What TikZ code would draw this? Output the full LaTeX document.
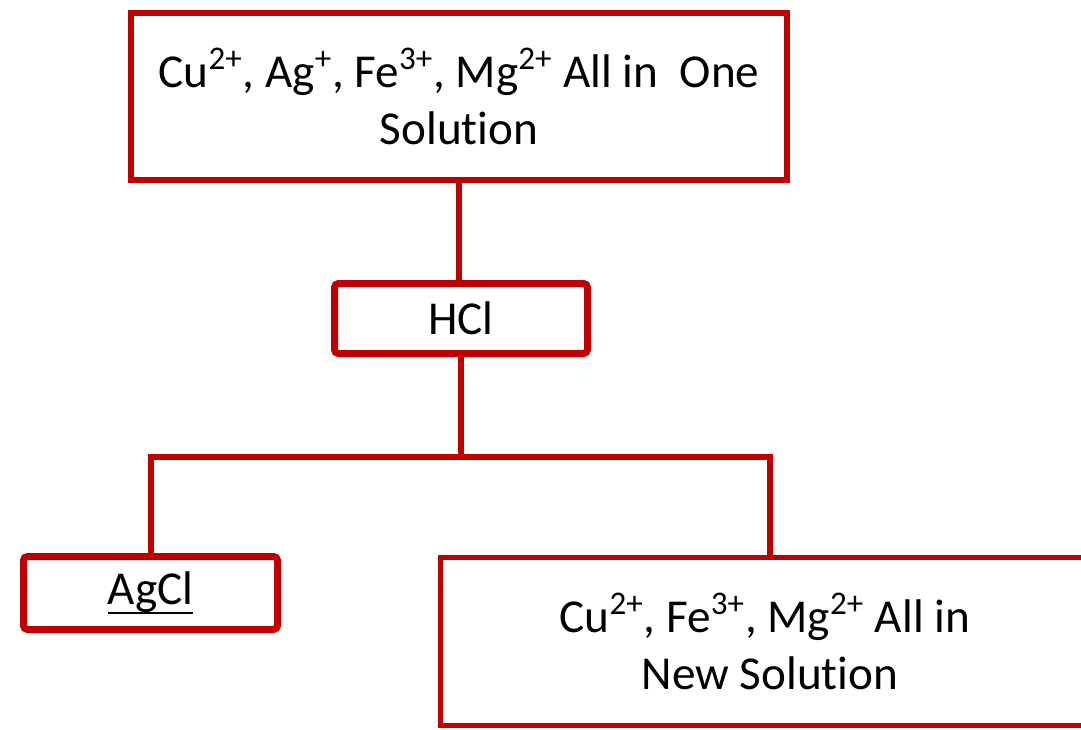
\documentclass[tikz,border=0pt]{standalone}
\usepackage{fontspec}
\setmainfont{Carlito}[Ligatures=NoCommon]
\usepackage{xcolor}
\usepackage{tikz}
\definecolor{boxred}{RGB}{192, 0, 0}
\usetikzlibrary{positioning}
\newcommand{\ulabel}[1]{\setbox0\hbox{#1}\rlap{\rule[-4.5pt]{\wd0}{1.1pt}}\box0}

\begin{document}
\begin{tikzpicture}[
        x=0.5pt, y=-0.5pt,
        box/.style={rectangle, draw=boxred, fill=white, line width=3pt,
                    inner sep=0pt, align=center,
                    font=\fontsize{23.6}{28.5}\selectfont},
        link/.style={draw=boxred, line width=3pt}
    ]
        \useasboundingbox (0,0) rectangle (1081,729);

        \node[box, minimum width=328pt, minimum height=83.5pt] (mixture) at (459,96.5)
            {Cu\textsuperscript{2+}, Ag\textsuperscript{+}, Fe\textsuperscript{3+}, Mg\textsuperscript{2+} All in\ \ One\\Solution};
        \node[box, line width=3.5pt, rounded corners=2pt, minimum width=126.5pt, minimum height=35pt] (hcl) at (461,318.5) {HCl};
        \node[box, line width=3.5pt, rounded corners=2pt, minimum width=127pt, minimum height=36.5pt] (agcl) at (150.5,593) {\ulabel{AgCl}};
        \node[box, line width=2.5pt, minimum width=330pt, minimum height=84pt] (newsol) at (770,641)
            {Cu\textsuperscript{2+}, Fe\textsuperscript{3+}, Mg\textsuperscript{2+} All in\hspace*{5pt}\\New Solution};

        \coordinate (split) at (461,457);
        \draw[link] (mixture.south) -- (mixture.south |- hcl.north);
        \draw[link] (hcl.south) -- (split);
        \draw[link] (agcl.north) |- (split) -| (newsol.north);
    \end{tikzpicture}
\end{document}
